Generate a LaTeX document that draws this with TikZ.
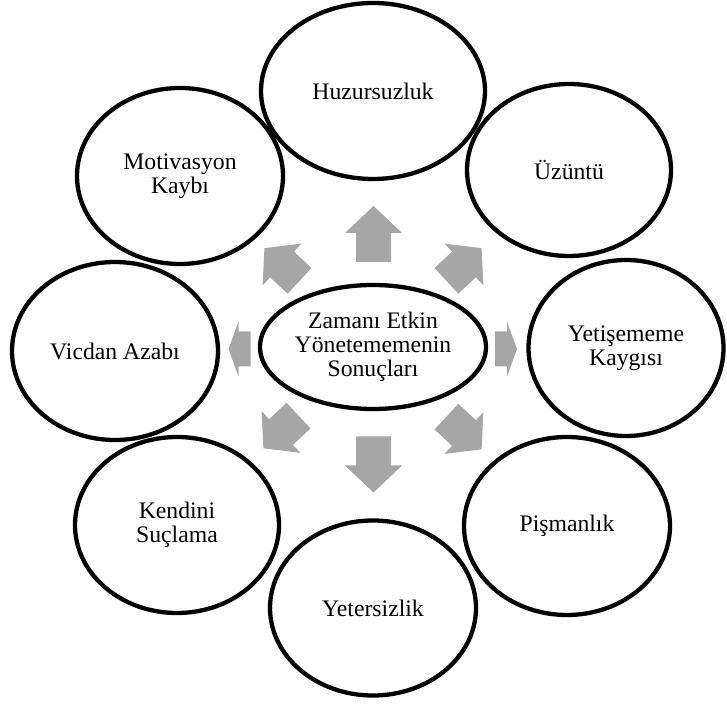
\documentclass[tikz,border=0pt]{standalone}
\usepackage{fontspec}
\setmainfont{Liberation Serif}
\usetikzlibrary{shapes.geometric}
\definecolor{arrowgray}{RGB}{166,166,166}
\newcommand\blockarr[7]{%
  \fill[arrowgray, shift={(#1,#2)}, rotate=#3]
    ({-#4/2}, {-#7/2}) -- ({#4/2-#5}, {-#7/2}) -- ({#4/2-#5}, {-#6/2}) --
    ({#4/2}, 0) -- ({#4/2-#5}, {#6/2}) -- ({#4/2-#5}, {#7/2}) --
    ({-#4/2}, {#7/2}) -- cycle;}
\begin{document}
\begin{tikzpicture}[x=1pt,y=1pt,
  bubble/.style={draw=black, line width=4.3pt, ellipse, inner sep=0pt,
    align=center, font=\fontsize{23.7}{24}\selectfont}]
\useasboundingbox (0,0) rectangle (727,704);
% outer bubbles
\node[bubble, minimum width=224pt, minimum height=176pt] (huz) at (373,613) {Huzursuzluk};
\node[bubble, minimum width=204pt, minimum height=172pt] (uzu) at (569,534) {Üzüntü};
\node[bubble, minimum width=195pt, minimum height=176pt] (yet) at (626,356) {Yetişememe\\Kaygısı};
\node[bubble, minimum width=206pt, minimum height=178pt] (pis) at (567,178) {Pişmanlık};
\node[bubble, minimum width=206pt, minimum height=175pt] (yts) at (373,96) {Yetersizlik};
\node[bubble, minimum width=204pt, minimum height=176pt] (ken) at (177,179) {Kendini\\Suçlama};
\node[bubble, minimum width=206pt, minimum height=178pt] (vic) at (115,353) {Vicdan Azabı};
\node[bubble, minimum width=206pt, minimum height=176pt] (mot) at (180,528) {Motivasyon\\Kaybı};
% centre
\node[bubble, minimum width=226pt, minimum height=124pt] (cen) at (373,357) {Zamanı Etkin\\Yönetememenin\\Sonuçları};
% block arrows around the centre
\coordinate (hub) at (373,355);
\begin{scope}[shift={(hub)}]
  \blockarr{0.5}{115}{90}{56}{27}{57}{35}
  \blockarr{0.5}{-115.5}{270}{56}{27}{57}{35}
  \blockarr{133}{0}{0}{22}{10}{55}{35}
  \blockarr{-133.5}{0}{180}{22}{10}{55}{35}
  \blockarr{91}{84.5}{42.9}{48}{24}{57}{35}
  \blockarr{-91}{84.5}{137.1}{48}{24}{57}{35}
  \blockarr{-92}{-83}{222.9}{48}{24}{57}{35}
  \blockarr{91}{-84}{-42.9}{48}{24}{57}{35}
\end{scope}
\end{tikzpicture}
\end{document}
